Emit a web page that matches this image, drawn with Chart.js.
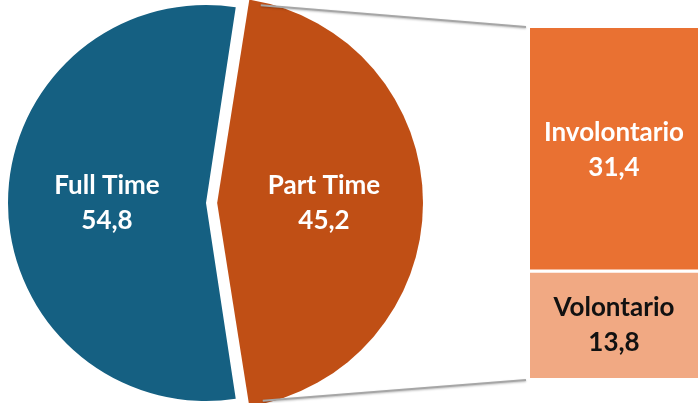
<!DOCTYPE html>
<html>
<head>
<meta charset="utf-8">
<script src="https://cdn.jsdelivr.net/npm/chart.js@4"></script>
<style>
    html, body { margin: 0; padding: 0; background: #fff; }
    #wrap { position: relative; width: 698px; height: 403px; overflow: hidden; }
    #pie-box { position: absolute; left: 0; top: 0; width: 698px; height: 403px; }
    #bar-box { position: absolute; left: 530px; top: 0; width: 168px; height: 403px; }
</style>
</head>
<body>
<div id="wrap">
    <div id="bar-box"><canvas id="bar-chart"></canvas></div>
    <div id="pie-box"><canvas id="pie-chart"></canvas></div>
</div>
<script>
// Data

const pieLabels = ["Part Time", "Full Time"];
const pieValues = [45.2, 54.8];
const pieColors = ['#C04F15', '#156082'];

const splitLabels = ["Volontario", "Involontario"];
const splitValues = [13.8, 31.4];
const splitColors = ['#F1A983', '#E97132'];
const splitTextColors = ['#111111', '#ffffff'];

const fmt = v => v.toFixed(1).replace('.', ',');
const labelFont = 'bold 26px Lato';

// Bar (split of Part Time)

const barCanvas = document.getElementById("bar-chart");

const barChart = new Chart(barCanvas, {
    type: 'bar',
    data: {
        labels: ["Part Time"],
        datasets: splitLabels.map((name, i) => ({
            label: name,
            data: [splitValues[i]],
            backgroundColor: splitColors[i],
            borderColor: '#ffffff',
            borderSkipped: false,
            borderWidth: i === 0 ? {top: 2, bottom: 0, left: 0, right: 0} : {top: 0, bottom: 2, left: 0, right: 0},
            barPercentage: 1,
            categoryPercentage: 1
        }))
    },
    options: {
        responsive: true,
        maintainAspectRatio: false,
        animation: false,
        events: [],
        layout: { padding: { top: 28, bottom: 25 } },
        scales: {
            x: { display: false, stacked: true },
            y: { display: false, stacked: true, min: 0, max: pieValues[0] }
        },
        plugins: { legend: { display: false }, tooltip: { enabled: false } }
    },
    plugins: [{
        id: 'barLabels',
        afterDatasetsDraw(chart) {
            const ctx = chart.ctx;
            ctx.save();
            ctx.font = labelFont;
            ctx.textAlign = 'center';
            ctx.textBaseline = 'middle';
            chart.data.datasets.forEach((ds, i) => {
                const bar = chart.getDatasetMeta(i).data[0];
                const cy = (bar.y + bar.base) / 2;
                ctx.fillStyle = splitTextColors[i];
                ctx.fillText(ds.label, bar.x, cy - 17);
                ctx.fillText(fmt(ds.data[0]), bar.x, cy + 18);
            });
            ctx.restore();
        }
    }]
});

// Pie with connector lines

const pieCanvas = document.getElementById("pie-chart");
const barLeft = 530;

// Chart.js moves an arc by offset/4 * (1 + (1 - sin(circumference)))
const partCirc = pieValues[0] / 100 * 2 * Math.PI;
const shiftFactor = (2 - Math.sin(Math.min(Math.PI, partCirc))) / 4;
const explode = 19;                       // wanted shift in px
const partOffset = explode / shiftFactor;

const pieChart = new Chart(pieCanvas, {
    type: 'pie',
    data: {
        labels: pieLabels,
        datasets: [{
            data: pieValues,
            backgroundColor: pieColors,
            borderWidth: 0,
            offset: [partOffset, 0],
            radius: 198
        }]
    },
    options: {
        responsive: true,
        maintainAspectRatio: false,
        animation: false,
        events: [],
        // centre the Part Time slice on 3 o'clock
        rotation: (180 - pieValues[0] / 100 * 360) / 2,
        layout: { padding: { left: 0, right: 286, top: 3, bottom: 0 } },
        plugins: { legend: { display: false }, tooltip: { enabled: false } }
    },
    plugins: [{
        id: 'pieExtras',
        afterDatasetsDraw(chart) {
            const ctx = chart.ctx;
            const meta = chart.getDatasetMeta(0);
            ctx.save();
            ctx.font = labelFont;
            ctx.textAlign = 'center';
            ctx.textBaseline = 'middle';
            ctx.fillStyle = '#ffffff';
            meta.data.forEach((arc, i) => {
                const mid = (arc.startAngle + arc.endAngle) / 2;
                const off = i === 0 ? explode : 0;
                const r = arc.outerRadius / 2 + off;
                const x = arc.x + Math.cos(mid) * r;
                const y = arc.y + Math.sin(mid) * r;
                ctx.fillText(pieLabels[i], x, y - 17);
                ctx.fillText(fmt(pieValues[i]), x, y + 18);
            });

            // connector lines from the Part Time slice to the bar
            const part = meta.data[0];
            const mid = (part.startAngle + part.endAngle) / 2;
            const cx = part.x + Math.cos(mid) * explode;
            const cy = part.y + Math.sin(mid) * explode;
            const R = part.outerRadius;
            const top = barChart.getDatasetMeta(1).data[0];
            const bot = barChart.getDatasetMeta(0).data[0];
            const bx = barLeft + top.x - top.width / 2 - 4;
            ctx.strokeStyle = '#A6A6A6';
            ctx.lineWidth = 2;
            ctx.shadowColor = 'rgba(0,0,0,0.25)';
            ctx.shadowBlur = 2;
            ctx.shadowOffsetY = 1;
            ctx.beginPath();
            ctx.moveTo(cx + Math.cos(part.startAngle) * R + 6, cy + Math.sin(part.startAngle) * R - 2);
            ctx.lineTo(bx, top.y - 1);
            ctx.moveTo(cx + Math.cos(part.endAngle) * R + 8, cy + Math.sin(part.endAngle) * R + 2);
            ctx.lineTo(bx, bot.base + 2);
            ctx.stroke();
            ctx.restore();
        }
    }]
});
</script>
</body>
</html>
